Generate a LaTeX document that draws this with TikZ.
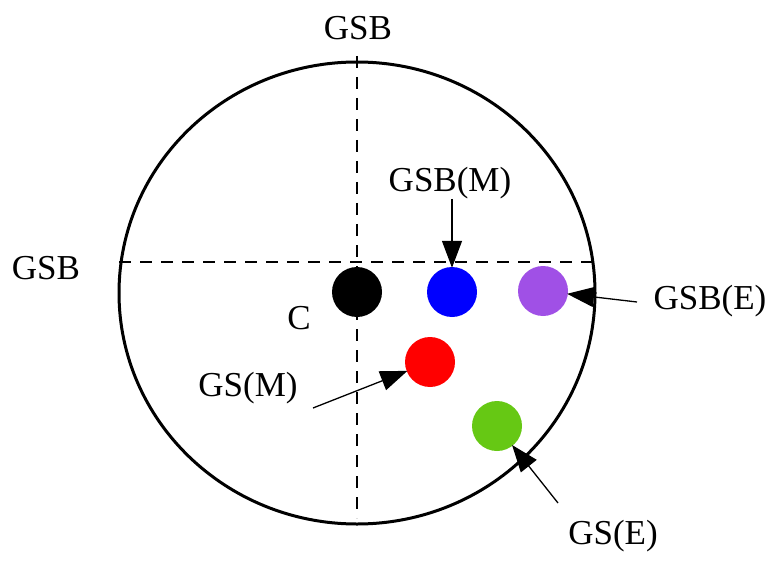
\documentclass[tikz,border=0pt]{standalone}
\usepackage{fontspec}
\setmainfont{Liberation Serif}
\usetikzlibrary{arrows.meta}
\definecolor{dotpurple}{RGB}{160,80,230}
\definecolor{dotgreen}{RGB}{102,200,20}
\tikzset{
  lbl/.style={inner sep=0pt, font=\fontsize{35}{40}\selectfont},
  dot/.style={circle, inner sep=0pt, minimum size=50pt, draw=none},
  axis/.style={line width=1.8pt, dash pattern=on 12pt off 9pt},
  pointer/.style={line width=1.3pt, -{Triangle[length=27pt,width=20pt]}, shorten >=-1pt},
}
\begin{document}
\begin{tikzpicture}[x=1pt,y=-1pt]
  \useasboundingbox (0,0) rectangle (778,561);
  % outer boundary
  \draw[line width=3pt] (357,293) ellipse [x radius=238, y radius=231];
  % reference axes
  \coordinate (vtop) at (357,56);
  \coordinate (vbot) at (357,518);
  \coordinate (hleft) at (119,262);
  \coordinate (hright) at (595,262);
  \draw[axis] (vtop) -- (vbot);
  \draw[axis] (hleft) -- (hright);
  % axis labels
  \node[lbl] (gsbtop) at (358,28) {GSB};
  \node[lbl] (gsbleft) at (46,268) {GSB};
  % points
  \node[dot, fill=black] (c) at (357,292) {};
  \node[dot, fill=blue] (gsbm) at (452,292) {};
  \node[dot, fill=dotpurple] (gsbe) at (543,291) {};
  \node[dot, fill=red] (gsm) at (430,362) {};
  \node[dot, fill=dotgreen] (gse) at (497,426) {};
  % point labels
  \node[lbl] (lc) at (299,318) {C};
  \node[lbl] (lgsbm) at (450,183) {GSB(M)};
  \node[lbl] (lgsbe) at (710,301) {GSB(E)};
  \node[lbl] (lgsm) at (248,388) {GS(M)};
  \node[lbl] (lgse) at (613,536) {GS(E)};
  % pointer tails
  \coordinate (tgsbm) at (452,199);
  \coordinate (tgsbe) at (637,302);
  \coordinate (tgsm) at (313,408);
  \coordinate (tgse) at (558,503);
  \draw[pointer] (tgsbm) -- (gsbm);
  \draw[pointer] (tgsbe) -- (gsbe);
  \draw[pointer] (tgsm) -- (gsm);
  \draw[pointer] (tgse) -- (gse);
\end{tikzpicture}
\end{document}
